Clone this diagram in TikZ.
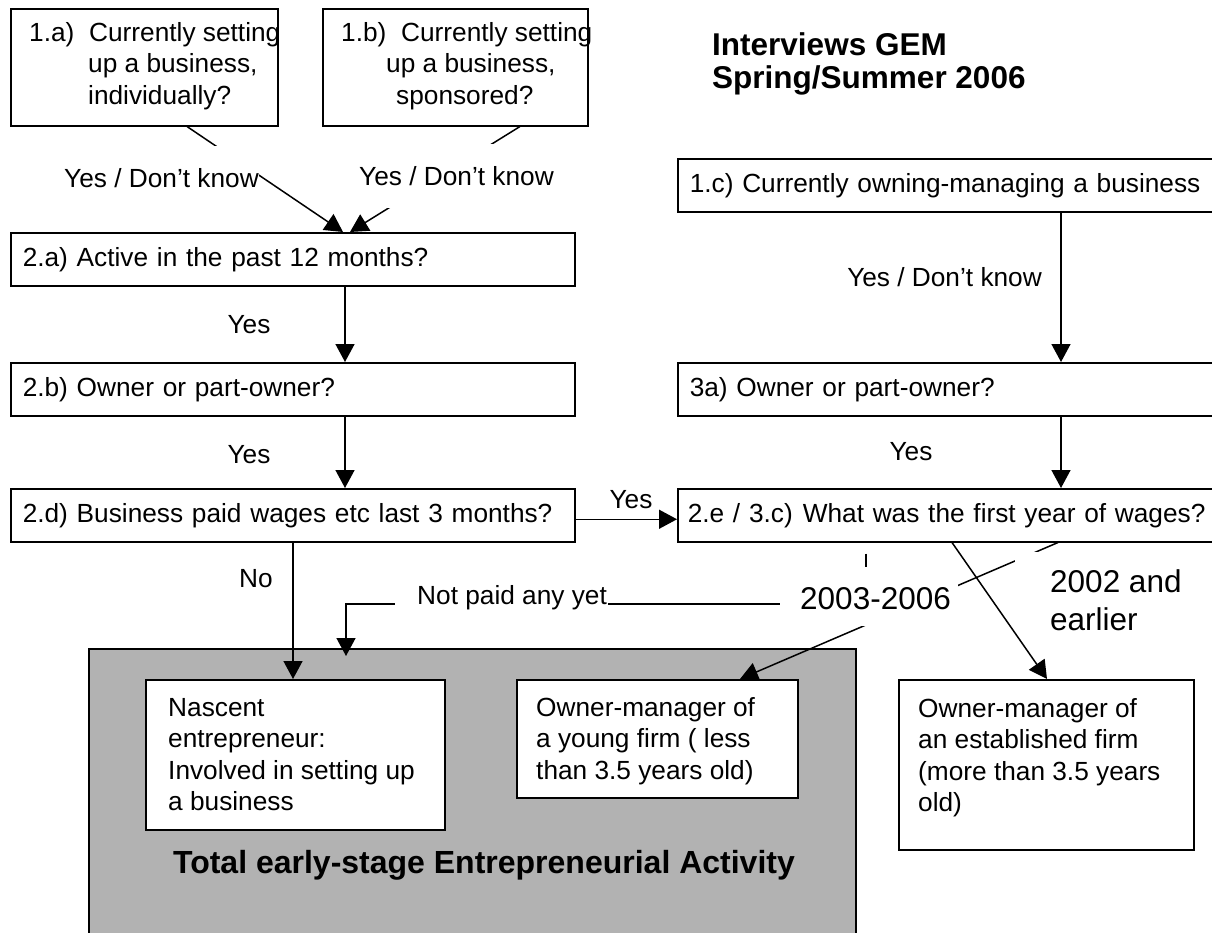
\documentclass[tikz,border=0pt]{standalone}
\usepackage{fontspec}
\setmainfont{Liberation Sans}
\usetikzlibrary{arrows.meta,calc}
\newcommand\bodyfont{\fontsize{26.25}{31.5}\selectfont}
\newcommand\bigfont{\fontsize{31.5}{38}\selectfont}
\newcommand\headfont{\fontsize{31.5}{33}\selectfont\bfseries}
\definecolor{tegray}{RGB}{178,178,178}

\begin{document}
\begin{tikzpicture}[x=1pt,y=-1pt,
  qbox/.style={draw, line width=1.5pt, fill=white, anchor=north west, inner sep=0pt},
  linebox/.style={qbox, align=left, inner xsep=12pt, minimum height=53pt, font=\bodyfont},
  txt/.style={inner sep=0pt, font=\bodyfont, align=left, anchor=north west},
  lbl/.style={inner sep=0pt, font=\bodyfont},
  conn/.style={line width=1.5pt},
  arr/.style={conn, -{Triangle[length=18pt,width=19pt]}},
  cover/.style={fill=white, inner sep=0pt}
]
\useasboundingbox (0,0) rectangle (1212,932);
\fill[white] (0,0) rectangle (1212,932);
\clip (0,0) rectangle (1212,932);

% heading
\node[font=\headfont, align=left, anchor=north west, inner sep=0pt] (head)
  at (712,32) {\strut Interviews GEM\\Spring/Summer 2006};

% first questions
\node[qbox, minimum width=267pt, minimum height=117pt] (q1a) at (10,8) {};
\node[txt] (q1a-t) at ($(q1a.north west)+(19,11)$)
  {\strut\makebox[60pt][l]{1.a)}Currently setting\\\hspace*{59pt}up a business,\\\hspace*{59pt}individually?};
\node[qbox, minimum width=265pt, minimum height=117pt] (q1b) at (322,8) {};
\node[txt] (q1b-t) at ($(q1b.north west)+(19,11)$)
  {\strut\makebox[60pt][l]{1.b)}Currently setting\\\hspace*{45pt}up a business,\\\hspace*{55pt}sponsored?};

% left column
\node[linebox, text width=540pt] (q2a) at (10,232) {2.a) Active in the past 12 months?};
\node[linebox, text width=540pt] (q2b) at (10,362) {2.b) Owner or part-owner?};
\node[linebox, text width=540pt] (q2d) at (10,488) {2.d) Business paid wages etc last 3 months?};

% right column
\node[linebox, text width=536pt] (q1c) at (677,158) {1.c) Currently owning-managing a business};
\node[linebox, text width=536pt] (q3a) at (677,362) {3a) Owner or part-owner?};
\node[linebox, text width=540pt, inner xsep=10pt] (q2e) at (677,488)
  {2.e / 3.c)\hspace{10pt}What was the first year of wages?};

% early-stage activity area
\node[draw, line width=1.5pt, fill=tegray, anchor=north west, inner sep=0pt,
  minimum width=767pt, minimum height=320pt] (tea) at (88,648) {};
\node[font=\fontsize{32}{38}\selectfont\bfseries, inner sep=0pt] (tea-t) at (484,865)
  {Total early-stage Entrepreneurial Activity};

\node[qbox, minimum width=299pt, minimum height=150pt] (nasc) at (145,679) {};
\node[txt] (nasc-t) at ($(nasc.north west)+(23,15)$)
  {\strut Nascent\\entrepreneur:\\Involved in setting up\\a business};
\node[qbox, minimum width=281pt, minimum height=118pt] (young) at (516,679) {};
\node[txt] (young-t) at ($(young.north west)+(20,15)$)
  {\strut Owner-manager of\\a young firm ( less\\than 3.5 years old)};
\node[qbox, minimum width=295pt, minimum height=170pt] (estab) at (898,679) {};
\node[txt] (estab-t) at ($(estab.north west)+(20,16)$)
  {\strut Owner-manager of\\an established firm\\(more than 3.5 years\\old)};

% connectors from the first questions
\draw[arr] ($(q1a.south west)+(177,0)$) -- ($(q2a.north west)+(333,0)$);
\draw[arr] ($(q1b.south west)+(198,0)$) -- ($(q2a.north west)+(340,0)$);
\node[cover, font=\bodyfont, minimum height=64pt, anchor=east] (l1a) at (259,178) {Yes / Don’t know};
\node[cover, font=\bodyfont, minimum height=64pt, anchor=east] (l1b) at (554,176) {Yes / Don’t know};

% left column flow
\draw[arr] ($(q2a.south west)+(335,0)$) -- ($(q2b.north west)+(335,0)$);
\node[lbl] (y1) at (249,325) {Yes};
\draw[arr] ($(q2b.south west)+(335,0)$) -- ($(q2d.north west)+(335,0)$);
\node[lbl] (y2) at (249,455) {Yes};
\draw[arr] ($(q2d.east)+(0,4)$) -- ($(q2e.west)+(0,4)$);
\node[lbl] (y3) at (631,500) {Yes};
\draw[arr] ($(q2d.south west)+(283,0)$) -- ($(nasc.north west)+(148,0)$);
\node[lbl] (no) at (256,579) {No};

% right column flow
\draw[arr] ($(q1c.south west)+(384,0)$) -- ($(q3a.north west)+(384,0)$);
\node[lbl, anchor=east] (l1c) at (1042,277) {Yes / Don’t know};
\draw[arr] ($(q3a.south west)+(384,0)$) -- ($(q2e.north west)+(384,0)$);
\node[lbl] (y4) at (911,452) {Yes};

% first year of wages
\coordinate (np-start) at ($(q2e.south west)+(189,11)$);
\coordinate (np-end) at (346,656);
\draw[arr] (np-start) |- ($(np-end)+(0,-52)$) -- (np-end);
\draw[arr] ($(q2e.south west)+(381,0)$) -- ($(young.north west)+(224,0)$);
\node[cover, font=\bodyfont, anchor=base west] (np) at (395,604)
  {\rule[-11pt]{0pt}{36pt}\hspace*{22pt}Not paid any yet\hspace*{1pt}};
\node[cover, font=\bigfont, anchor=base west] (yr1) at (780,609.3)
  {\rule[-16.7pt]{0pt}{59pt}\hspace*{20pt}2003-2006\hspace*{7pt}};
\node[cover, font=\bigfont, anchor=north west, align=left] (yr2) at (1015,552)
  {\rule{0pt}{40pt}\hspace*{35pt}2002 and\\\hspace*{35pt}earlier};
\draw[arr] ($(q2e.south west)+(275,0)$) -- ($(estab.north west)+(149,0)$);
\end{tikzpicture}
\end{document}
